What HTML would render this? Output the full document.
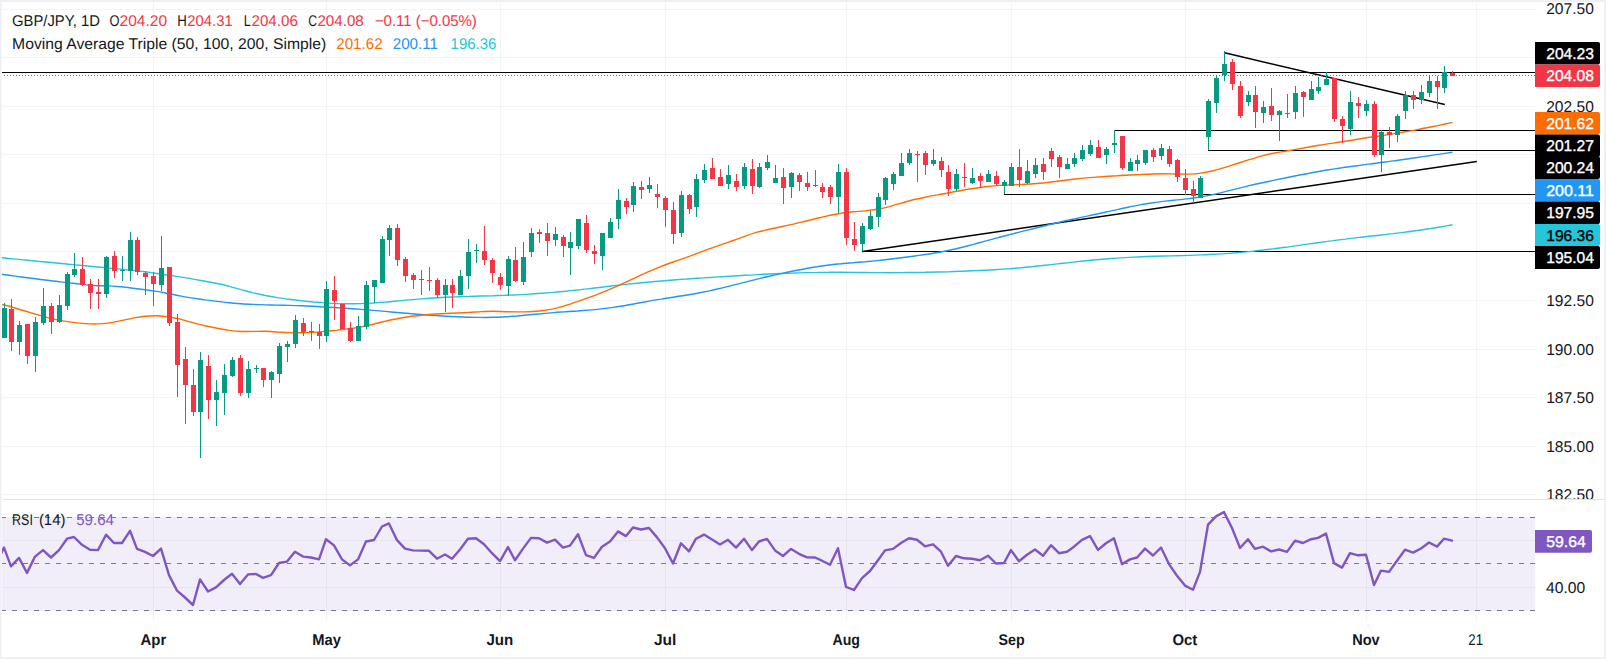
<!DOCTYPE html>
<html lang="en"><head><meta charset="utf-8"><title>GBP/JPY 1D chart</title>
<style>html,body{margin:0;padding:0;background:#fff;overflow:hidden}svg{display:block}</style>
</head><body>
<svg width="1606" height="659" viewBox="0 0 1606 659" font-family='"Liberation Sans", Arial, sans-serif' text-rendering="geometricPrecision">
<rect width="1606" height="659" fill="#fff"/>
<g shape-rendering="crispEdges" fill="#f3f4f5">
<rect x="153" y="2" width="1" height="619"/>
<rect x="326" y="2" width="1" height="619"/>
<rect x="500" y="2" width="1" height="619"/>
<rect x="665" y="2" width="1" height="619"/>
<rect x="846" y="2" width="1" height="619"/>
<rect x="1011" y="2" width="1" height="619"/>
<rect x="1185" y="2" width="1" height="619"/>
<rect x="1366" y="2" width="1" height="619"/>
<rect x="1476" y="2" width="1" height="619"/>
<rect x="2" y="9" width="1533" height="1"/>
<rect x="2" y="57" width="1533" height="1"/>
<rect x="2" y="106" width="1533" height="1"/>
<rect x="2" y="154" width="1533" height="1"/>
<rect x="2" y="203" width="1533" height="1"/>
<rect x="2" y="251" width="1533" height="1"/>
<rect x="2" y="300" width="1533" height="1"/>
<rect x="2" y="349" width="1533" height="1"/>
<rect x="2" y="397" width="1533" height="1"/>
<rect x="2" y="446" width="1533" height="1"/>
<rect x="2" y="494" width="1533" height="1"/>
<rect x="2" y="540" width="1533" height="1"/>
<rect x="2" y="587" width="1533" height="1"/>
</g>
<rect x="2" y="517" width="1533" height="94" fill="#7e57c2" fill-opacity="0.1"/>
<g stroke="#787b86" stroke-width="1" stroke-dasharray="5 6" fill="none" shape-rendering="crispEdges">
<path d="M1 517.5H1535"/>
<path d="M1 563.5H1535"/>
<path d="M1 610.5H1535"/>
</g>
<g stroke="#000" stroke-width="1" fill="none">
<g shape-rendering="crispEdges">
<path d="M0 72.5H1535"/>
<path d="M1114 130.5H1535"/>
<path d="M1208 150.5H1535"/>
<path d="M1004 194.5H1535"/>
<path d="M862 251.5H1535"/>
</g>
<path d="M862.3 251.4L1476.8 161.6" stroke-width="1.5"/>
<path d="M1224.5 52.8L1444.8 104.4" stroke-width="1.5"/>
</g>
<path d="M1.2 257.8C3.2 258.0 9.2 258.6 13.2 258.9C17.2 259.3 21.2 259.7 25.2 260.0C29.2 260.4 33.2 260.8 37.2 261.2C41.2 261.5 45.2 261.9 49.2 262.3C53.2 262.7 57.2 263.1 61.2 263.5C65.2 263.9 69.2 264.3 73.2 264.6C77.2 265.0 81.2 265.4 85.2 265.8C89.2 266.2 93.2 266.6 97.2 267.0C101.2 267.4 105.2 267.7 109.2 268.1C113.2 268.4 117.2 268.8 121.2 269.1C125.2 269.5 129.2 269.9 133.2 270.4C137.2 270.8 141.2 271.3 145.2 271.8C149.2 272.4 153.2 272.9 157.2 273.5C161.2 274.0 165.2 274.6 169.2 275.2C173.2 275.8 177.2 276.5 181.2 277.1C185.2 277.7 189.2 278.4 193.2 279.1C197.2 279.8 201.2 280.5 205.2 281.2C209.2 281.9 213.2 282.7 217.2 283.5C221.2 284.4 225.2 285.3 229.2 286.3C233.2 287.4 237.2 288.5 241.2 289.6C245.2 290.7 249.2 291.9 253.2 292.9C257.2 293.8 261.2 294.7 265.2 295.5C269.2 296.2 273.2 296.9 277.2 297.6C281.2 298.2 285.2 298.8 289.2 299.3C293.2 299.8 297.2 300.3 301.2 300.8C305.2 301.2 309.2 301.6 313.2 302.0C317.2 302.3 321.2 302.7 325.2 302.9C329.2 303.2 333.2 303.4 337.2 303.6C341.2 303.7 345.2 303.8 349.2 303.8C353.2 303.8 357.2 303.7 361.2 303.6C365.2 303.4 369.2 303.2 373.2 303.0C377.2 302.7 381.2 302.4 385.2 302.1C389.2 301.8 393.2 301.4 397.2 301.0C401.2 300.7 405.2 300.3 409.2 299.9C413.2 299.6 417.2 299.2 421.2 298.9C425.2 298.6 429.2 298.3 433.2 298.0C437.2 297.7 441.2 297.5 445.2 297.3C449.2 297.1 453.2 296.9 457.2 296.8C461.2 296.6 465.2 296.5 469.2 296.4C473.2 296.2 477.2 296.1 481.2 296.0C485.2 295.9 489.2 295.8 493.2 295.7C497.2 295.5 501.2 295.4 505.2 295.3C509.2 295.1 513.2 294.9 517.2 294.8C521.2 294.6 525.2 294.4 529.2 294.1C533.2 293.9 537.2 293.6 541.2 293.3C545.2 293.0 549.2 292.7 553.2 292.4C557.2 292.0 561.2 291.6 565.2 291.3C569.2 290.9 573.2 290.4 577.2 290.0C581.2 289.6 585.2 289.1 589.2 288.6C593.2 288.2 597.2 287.7 601.2 287.2C605.2 286.8 609.2 286.3 613.2 285.8C617.2 285.3 621.2 284.9 625.2 284.4C629.2 284.0 633.2 283.6 637.2 283.2C641.2 282.8 645.2 282.4 649.2 282.0C653.2 281.7 657.2 281.3 661.2 281.0C665.2 280.7 669.2 280.3 673.2 280.0C677.2 279.7 681.2 279.4 685.2 279.1C689.2 278.9 693.2 278.6 697.2 278.3C701.2 278.0 705.2 277.8 709.2 277.5C713.2 277.2 717.2 277.0 721.2 276.7C725.2 276.5 729.2 276.2 733.2 276.0C737.2 275.7 741.2 275.5 745.2 275.3C749.2 275.1 753.2 274.9 757.2 274.6C761.2 274.4 765.2 274.2 769.2 274.0C773.2 273.8 777.2 273.7 781.2 273.5C785.2 273.3 789.2 273.1 793.2 273.0C797.2 272.8 801.2 272.7 805.2 272.6C809.2 272.5 813.2 272.4 817.2 272.4C821.2 272.3 825.2 272.3 829.2 272.3C833.2 272.2 837.2 272.3 841.2 272.3C845.2 272.3 849.2 272.3 853.2 272.4C857.2 272.4 861.2 272.5 865.2 272.5C869.2 272.6 873.2 272.6 877.2 272.6C881.2 272.7 885.2 272.7 889.2 272.7C893.2 272.7 897.2 272.7 901.2 272.6C905.2 272.6 909.2 272.5 913.2 272.5C917.2 272.4 921.2 272.3 925.2 272.3C929.2 272.2 933.2 272.1 937.2 272.0C941.2 271.9 945.2 271.8 949.2 271.7C953.2 271.5 957.2 271.4 961.2 271.3C965.2 271.1 969.2 271.0 973.2 270.8C977.2 270.6 981.2 270.4 985.2 270.2C989.2 270.0 993.2 269.8 997.2 269.5C1001.2 269.2 1005.2 269.0 1009.2 268.7C1013.2 268.3 1017.2 268.0 1021.2 267.7C1025.2 267.3 1029.2 266.9 1033.2 266.5C1037.2 266.1 1041.2 265.7 1045.2 265.3C1049.2 264.8 1053.2 264.4 1057.2 263.9C1061.2 263.5 1065.2 263.0 1069.2 262.6C1073.2 262.1 1077.2 261.7 1081.2 261.2C1085.2 260.8 1089.2 260.4 1093.2 260.0C1097.2 259.7 1101.2 259.3 1105.2 259.0C1109.2 258.7 1113.2 258.4 1117.2 258.1C1121.2 257.8 1125.2 257.6 1129.2 257.4C1133.2 257.2 1137.2 257.0 1141.2 256.8C1145.2 256.6 1149.2 256.5 1153.2 256.3C1157.2 256.2 1161.2 256.1 1165.2 256.0C1169.2 255.9 1173.2 255.8 1177.2 255.7C1181.2 255.6 1185.2 255.5 1189.2 255.4C1193.2 255.2 1197.2 255.1 1201.2 254.9C1205.2 254.7 1209.2 254.6 1213.2 254.3C1217.2 254.1 1221.2 253.9 1225.2 253.6C1229.2 253.3 1233.2 253.0 1237.2 252.7C1241.2 252.3 1245.2 252.0 1249.2 251.6C1253.2 251.2 1257.2 250.8 1261.2 250.3C1265.2 249.9 1269.2 249.4 1273.2 248.9C1277.2 248.4 1281.2 247.9 1285.2 247.3C1289.2 246.8 1293.2 246.2 1297.2 245.6C1301.2 245.1 1305.2 244.5 1309.2 243.9C1313.2 243.3 1317.2 242.7 1321.2 242.2C1325.2 241.6 1329.2 241.1 1333.2 240.6C1337.2 240.0 1341.2 239.5 1345.2 239.1C1349.2 238.6 1353.2 238.1 1357.2 237.6C1361.2 237.2 1365.2 236.7 1369.2 236.3C1373.2 235.8 1377.2 235.4 1381.2 235.0C1385.2 234.5 1389.2 234.0 1393.2 233.6C1397.2 233.1 1401.2 232.6 1405.2 232.1C1409.2 231.6 1413.2 231.1 1417.2 230.5C1421.2 230.0 1425.2 229.4 1429.2 228.7C1433.2 228.1 1437.4 227.5 1441.2 226.8C1445.1 226.1 1450.6 225.1 1452.5 224.8" fill="none" stroke="#26c6da" stroke-width="1.4" stroke-linejoin="round"/>
<path d="M1.2 274.3C3.2 274.5 9.2 275.4 13.2 275.9C17.2 276.5 21.2 277.0 25.2 277.5C29.2 278.0 33.2 278.5 37.2 279.0C41.2 279.6 45.2 280.0 49.2 280.5C53.2 281.0 57.2 281.5 61.2 281.9C65.2 282.4 69.2 282.9 73.2 283.3C77.2 283.7 81.2 284.2 85.2 284.6C89.2 285.0 93.2 285.5 97.2 285.7C101.2 285.9 105.2 285.7 109.2 285.9C113.2 286.1 117.2 286.5 121.2 286.8C125.2 287.2 129.2 287.7 133.2 288.2C137.2 288.6 141.2 289.1 145.2 289.7C149.2 290.2 153.2 290.8 157.2 291.4C161.2 292.1 165.2 293.0 169.2 293.7C173.2 294.5 177.2 295.4 181.2 296.1C185.2 296.8 189.2 297.5 193.2 298.1C197.2 298.7 201.2 299.3 205.2 299.9C209.2 300.4 213.2 300.9 217.2 301.4C221.2 301.9 225.2 302.3 229.2 302.7C233.2 303.1 237.2 303.4 241.2 303.7C245.2 304.0 249.2 304.2 253.2 304.4C257.2 304.6 261.2 304.7 265.2 304.9C269.2 305.0 273.2 305.0 277.2 305.1C281.2 305.2 285.2 305.3 289.2 305.4C293.2 305.5 297.2 305.6 301.2 305.8C305.2 306.0 309.2 306.1 313.2 306.3C317.2 306.5 321.2 306.7 325.2 307.0C329.2 307.2 333.2 307.4 337.2 307.7C341.2 308.0 345.2 308.2 349.2 308.5C353.2 308.8 357.2 309.1 361.2 309.4C365.2 309.7 369.2 310.1 373.2 310.4C377.2 310.7 381.2 311.1 385.2 311.4C389.2 311.8 393.2 312.1 397.2 312.5C401.2 312.8 405.2 313.2 409.2 313.5C413.2 313.9 417.2 314.2 421.2 314.5C425.2 314.8 429.2 315.1 433.2 315.4C437.2 315.7 441.2 315.9 445.2 316.2C449.2 316.4 453.2 316.6 457.2 316.8C461.2 317.0 465.2 317.1 469.2 317.2C473.2 317.3 477.2 317.4 481.2 317.4C485.2 317.5 489.2 317.4 493.2 317.3C497.2 317.2 501.2 317.1 505.2 316.8C509.2 316.6 513.2 316.3 517.2 316.0C521.2 315.6 525.2 315.2 529.2 314.8C533.2 314.5 537.2 314.0 541.2 313.7C545.2 313.3 549.2 312.9 553.2 312.6C557.2 312.3 561.2 312.0 565.2 311.8C569.2 311.5 573.2 311.2 577.2 311.0C581.2 310.7 585.2 310.4 589.2 310.1C593.2 309.8 597.2 309.4 601.2 308.9C605.2 308.5 609.2 308.0 613.2 307.4C617.2 306.8 621.2 306.2 625.2 305.5C629.2 304.8 633.2 304.1 637.2 303.3C641.2 302.6 645.2 301.8 649.2 301.1C653.2 300.4 657.2 299.7 661.2 299.1C665.2 298.4 669.2 297.8 673.2 297.2C677.2 296.6 681.2 296.0 685.2 295.3C689.2 294.7 693.2 294.0 697.2 293.3C701.2 292.5 705.2 291.7 709.2 290.9C713.2 290.0 717.2 289.0 721.2 288.1C725.2 287.1 729.2 286.1 733.2 285.1C737.2 284.1 741.2 283.1 745.2 282.1C749.2 281.1 753.2 280.1 757.2 279.1C761.2 278.1 765.2 277.2 769.2 276.3C773.2 275.3 777.2 274.4 781.2 273.6C785.2 272.7 789.2 271.9 793.2 271.0C797.2 270.2 801.2 269.4 805.2 268.7C809.2 268.0 813.2 267.3 817.2 266.7C821.2 266.0 825.2 265.5 829.2 265.0C833.2 264.5 837.2 264.1 841.2 263.8C845.2 263.4 849.2 263.1 853.2 262.8C857.2 262.4 861.2 262.1 865.2 261.8C869.2 261.4 873.2 261.0 877.2 260.6C881.2 260.2 885.2 259.7 889.2 259.3C893.2 258.8 897.2 258.3 901.2 257.8C905.2 257.3 909.2 256.7 913.2 256.2C917.2 255.6 921.2 255.1 925.2 254.5C929.2 253.9 933.2 253.2 937.2 252.5C941.2 251.8 945.2 251.1 949.2 250.2C953.2 249.4 957.2 248.5 961.2 247.5C965.2 246.5 969.2 245.4 973.2 244.4C977.2 243.3 981.2 242.2 985.2 241.1C989.2 240.0 993.2 238.9 997.2 237.8C1001.2 236.7 1005.2 235.7 1009.2 234.7C1013.2 233.6 1017.2 232.6 1021.2 231.6C1025.2 230.6 1029.2 229.7 1033.2 228.7C1037.2 227.7 1041.2 226.7 1045.2 225.7C1049.2 224.7 1053.2 223.7 1057.2 222.8C1061.2 221.8 1065.2 220.9 1069.2 220.0C1073.2 219.1 1077.2 218.3 1081.2 217.4C1085.2 216.5 1089.2 215.7 1093.2 214.8C1097.2 213.9 1101.2 213.1 1105.2 212.2C1109.2 211.3 1113.2 210.4 1117.2 209.6C1121.2 208.7 1125.2 207.8 1129.2 207.0C1133.2 206.2 1137.2 205.3 1141.2 204.6C1145.2 203.9 1149.2 203.2 1153.2 202.7C1157.2 202.1 1161.2 201.6 1165.2 201.1C1169.2 200.7 1173.2 200.3 1177.2 199.9C1181.2 199.5 1185.2 199.1 1189.2 198.6C1193.2 198.1 1197.2 197.5 1201.2 196.8C1205.2 196.2 1209.2 195.3 1213.2 194.5C1217.2 193.6 1221.2 192.6 1225.2 191.6C1229.2 190.6 1233.2 189.6 1237.2 188.6C1241.2 187.6 1245.2 186.6 1249.2 185.6C1253.2 184.7 1257.2 183.8 1261.2 183.0C1265.2 182.1 1269.2 181.3 1273.2 180.4C1277.2 179.6 1281.2 178.8 1285.2 178.0C1289.2 177.1 1293.2 176.3 1297.2 175.5C1301.2 174.7 1305.2 173.9 1309.2 173.2C1313.2 172.4 1317.2 171.7 1321.2 171.0C1325.2 170.4 1329.2 169.7 1333.2 169.1C1337.2 168.5 1341.2 167.9 1345.2 167.3C1349.2 166.8 1353.2 166.2 1357.2 165.7C1361.2 165.2 1365.2 164.6 1369.2 164.1C1373.2 163.6 1377.2 163.1 1381.2 162.5C1385.2 162.0 1389.2 161.5 1393.2 160.9C1397.2 160.4 1401.2 159.8 1405.2 159.2C1409.2 158.7 1413.2 158.1 1417.2 157.5C1421.2 156.9 1425.2 156.3 1429.2 155.7C1433.2 155.1 1437.4 154.5 1441.2 153.9C1445.1 153.3 1450.6 152.5 1452.4 152.2" fill="none" stroke="#2196f3" stroke-width="1.4" stroke-linejoin="round"/>
<path d="M1.2 304.1C3.2 304.7 9.2 306.3 13.2 307.5C17.2 308.6 21.2 309.8 25.2 311.0C29.2 312.2 33.2 313.5 37.2 314.7C41.2 315.9 45.2 317.1 49.2 318.1C53.2 319.1 57.2 319.9 61.2 320.6C65.2 321.3 69.2 321.9 73.2 322.4C77.2 322.9 81.2 323.4 85.2 323.6C89.2 323.9 93.2 324.0 97.2 323.9C101.2 323.8 105.2 323.5 109.2 322.9C113.2 322.4 117.2 321.4 121.2 320.6C125.2 319.8 129.2 318.9 133.2 318.1C137.2 317.4 141.2 316.6 145.2 316.2C149.2 315.8 153.2 315.7 157.2 315.8C161.2 316.0 165.2 316.4 169.2 317.0C173.2 317.6 177.2 318.5 181.2 319.4C185.2 320.4 189.2 321.8 193.2 322.8C197.2 323.9 201.2 324.8 205.2 325.7C209.2 326.6 213.2 327.4 217.2 328.2C221.2 329.0 225.2 329.8 229.2 330.4C233.2 330.9 237.2 331.3 241.2 331.5C245.2 331.6 249.2 331.4 253.2 331.4C257.2 331.4 261.2 331.2 265.2 331.3C269.2 331.4 273.2 331.7 277.2 332.0C281.2 332.2 285.2 332.5 289.2 332.6C293.2 332.7 297.2 332.8 301.2 332.8C305.2 332.8 309.2 332.6 313.2 332.4C317.2 332.2 321.2 331.7 325.2 331.3C329.2 331.0 333.2 330.5 337.2 330.1C341.2 329.6 345.2 329.3 349.2 328.8C353.2 328.3 357.2 327.7 361.2 326.9C365.2 326.2 369.2 325.2 373.2 324.3C377.2 323.3 381.2 322.2 385.2 321.3C389.2 320.3 393.2 319.4 397.2 318.7C401.2 317.9 405.2 317.3 409.2 316.7C413.2 316.1 417.2 315.7 421.2 315.3C425.2 314.8 429.2 314.5 433.2 314.2C437.2 313.9 441.2 313.7 445.2 313.5C449.2 313.3 453.2 313.2 457.2 313.0C461.2 312.8 465.2 312.6 469.2 312.4C473.2 312.2 477.2 311.8 481.2 311.6C485.2 311.5 489.2 311.3 493.2 311.3C497.2 311.3 501.2 311.6 505.2 311.7C509.2 311.8 513.2 311.9 517.2 311.9C521.2 311.9 525.2 311.9 529.2 311.7C533.2 311.5 537.2 311.3 541.2 310.8C545.2 310.3 549.2 309.7 553.2 308.9C557.2 308.0 561.2 306.9 565.2 305.7C569.2 304.5 573.2 303.1 577.2 301.7C581.2 300.3 585.2 298.9 589.2 297.4C593.2 296.0 597.2 294.4 601.2 292.8C605.2 291.2 609.2 289.5 613.2 287.8C617.2 286.0 621.2 284.3 625.2 282.4C629.2 280.6 633.2 278.7 637.2 276.9C641.2 275.0 645.2 273.1 649.2 271.3C653.2 269.6 657.2 267.9 661.2 266.3C665.2 264.8 669.2 263.4 673.2 262.0C677.2 260.6 681.2 259.3 685.2 257.9C689.2 256.4 693.2 254.9 697.2 253.4C701.2 251.9 705.2 250.3 709.2 248.8C713.2 247.4 717.2 246.0 721.2 244.6C725.2 243.2 729.2 241.9 733.2 240.5C737.2 239.1 741.2 237.5 745.2 236.1C749.2 234.7 753.2 233.4 757.2 232.2C761.2 231.1 765.2 230.2 769.2 229.2C773.2 228.3 777.2 227.6 781.2 226.7C785.2 225.8 789.2 225.0 793.2 224.1C797.2 223.1 801.2 222.2 805.2 221.2C809.2 220.3 813.2 219.3 817.2 218.3C821.2 217.4 825.2 216.4 829.2 215.5C833.2 214.7 837.2 213.9 841.2 213.2C845.2 212.6 849.2 212.2 853.2 211.8C857.2 211.4 861.2 211.3 865.2 210.9C869.2 210.5 873.2 210.0 877.2 209.3C881.2 208.6 885.2 207.6 889.2 206.6C893.2 205.5 897.2 204.2 901.2 203.1C905.2 202.0 909.2 200.8 913.2 199.8C917.2 198.8 921.2 198.0 925.2 197.2C929.2 196.3 933.2 195.6 937.2 194.9C941.2 194.1 945.2 193.4 949.2 192.7C953.2 191.9 957.2 191.2 961.2 190.5C965.2 189.8 969.2 189.1 973.2 188.5C977.2 187.9 981.2 187.3 985.2 186.8C989.2 186.3 993.2 185.9 997.2 185.6C1001.2 185.3 1005.2 185.1 1009.2 184.9C1013.2 184.7 1017.2 184.6 1021.2 184.4C1025.2 184.2 1029.2 184.0 1033.2 183.7C1037.2 183.4 1041.2 183.1 1045.2 182.7C1049.2 182.2 1053.2 181.7 1057.2 181.2C1061.2 180.7 1065.2 180.2 1069.2 179.7C1073.2 179.3 1077.2 178.8 1081.2 178.4C1085.2 178.0 1089.2 177.7 1093.2 177.4C1097.2 177.1 1101.2 176.8 1105.2 176.5C1109.2 176.2 1113.2 175.9 1117.2 175.7C1121.2 175.4 1125.2 175.2 1129.2 175.0C1133.2 174.8 1137.2 174.6 1141.2 174.5C1145.2 174.3 1149.2 174.1 1153.2 174.0C1157.2 173.9 1161.2 173.8 1165.2 173.8C1169.2 173.8 1173.2 174.0 1177.2 174.0C1181.2 174.1 1185.2 174.3 1189.2 174.1C1193.2 174.0 1197.2 173.7 1201.2 173.1C1205.2 172.5 1209.2 171.6 1213.2 170.7C1217.2 169.7 1221.2 168.5 1225.2 167.3C1229.2 166.1 1233.2 164.7 1237.2 163.5C1241.2 162.2 1245.2 160.9 1249.2 159.6C1253.2 158.4 1257.2 157.2 1261.2 156.1C1265.2 155.1 1269.2 154.1 1273.2 153.3C1277.2 152.4 1281.2 151.9 1285.2 151.2C1289.2 150.5 1293.2 149.8 1297.2 149.1C1301.2 148.4 1305.2 147.7 1309.2 147.0C1313.2 146.3 1317.2 145.6 1321.2 145.0C1325.2 144.3 1329.2 143.7 1333.2 143.1C1337.2 142.5 1341.2 141.9 1345.2 141.2C1349.2 140.6 1353.2 139.9 1357.2 139.2C1361.2 138.6 1365.2 137.9 1369.2 137.3C1373.2 136.7 1377.2 136.2 1381.2 135.7C1385.2 135.1 1389.2 134.6 1393.2 133.9C1397.2 133.3 1401.2 132.5 1405.2 131.8C1409.2 131.1 1413.2 130.4 1417.2 129.6C1421.2 128.9 1425.2 128.1 1429.2 127.3C1433.2 126.5 1437.4 125.7 1441.2 124.9C1445.1 124.0 1450.6 122.8 1452.4 122.3" fill="none" stroke="#ff6d00" stroke-width="1.4" stroke-linejoin="round"/>
<g shape-rendering="crispEdges">
<rect x="4" y="303" width="1" height="35" fill="#089981"/>
<rect x="2" y="308" width="5" height="30" fill="#089981"/>
<rect x="11" y="299" width="1" height="52" fill="#f23645"/>
<rect x="9" y="309" width="5" height="33" fill="#f23645"/>
<rect x="19" y="321" width="1" height="34" fill="#089981"/>
<rect x="17" y="325" width="5" height="17" fill="#089981"/>
<rect x="27" y="324" width="1" height="40" fill="#f23645"/>
<rect x="25" y="324" width="5" height="32" fill="#f23645"/>
<rect x="35" y="317" width="1" height="55" fill="#089981"/>
<rect x="33" y="322" width="5" height="34" fill="#089981"/>
<rect x="43" y="288" width="1" height="37" fill="#089981"/>
<rect x="41" y="306" width="5" height="17" fill="#089981"/>
<rect x="51" y="303" width="1" height="31" fill="#f23645"/>
<rect x="49" y="306" width="5" height="16" fill="#f23645"/>
<rect x="59" y="295" width="1" height="28" fill="#089981"/>
<rect x="57" y="305" width="5" height="17" fill="#089981"/>
<rect x="67" y="272" width="1" height="38" fill="#089981"/>
<rect x="65" y="274" width="5" height="32" fill="#089981"/>
<rect x="74" y="253" width="1" height="24" fill="#089981"/>
<rect x="72" y="269" width="5" height="6" fill="#089981"/>
<rect x="82" y="257" width="1" height="29" fill="#f23645"/>
<rect x="80" y="269" width="5" height="16" fill="#f23645"/>
<rect x="90" y="279" width="1" height="30" fill="#f23645"/>
<rect x="88" y="284" width="5" height="9" fill="#f23645"/>
<rect x="98" y="279" width="1" height="30" fill="#f23645"/>
<rect x="96" y="292" width="5" height="2" fill="#f23645"/>
<rect x="106" y="256" width="1" height="42" fill="#089981"/>
<rect x="104" y="257" width="5" height="37" fill="#089981"/>
<rect x="114" y="251" width="1" height="27" fill="#f23645"/>
<rect x="112" y="256" width="5" height="15" fill="#f23645"/>
<rect x="122" y="256" width="1" height="25" fill="#089981"/>
<rect x="120" y="270" width="5" height="1" fill="#089981"/>
<rect x="130" y="232" width="1" height="49" fill="#089981"/>
<rect x="128" y="240" width="5" height="31" fill="#089981"/>
<rect x="137" y="237" width="1" height="38" fill="#f23645"/>
<rect x="135" y="240" width="5" height="32" fill="#f23645"/>
<rect x="145" y="271" width="1" height="24" fill="#f23645"/>
<rect x="143" y="273" width="5" height="4" fill="#f23645"/>
<rect x="153" y="272" width="1" height="34" fill="#f23645"/>
<rect x="151" y="276" width="5" height="8" fill="#f23645"/>
<rect x="161" y="236" width="1" height="55" fill="#089981"/>
<rect x="159" y="268" width="5" height="17" fill="#089981"/>
<rect x="169" y="267" width="1" height="59" fill="#f23645"/>
<rect x="167" y="267" width="5" height="56" fill="#f23645"/>
<rect x="177" y="314" width="1" height="83" fill="#f23645"/>
<rect x="175" y="322" width="5" height="43" fill="#f23645"/>
<rect x="185" y="347" width="1" height="77" fill="#f23645"/>
<rect x="183" y="359" width="5" height="26" fill="#f23645"/>
<rect x="193" y="369" width="1" height="47" fill="#f23645"/>
<rect x="191" y="385" width="5" height="27" fill="#f23645"/>
<rect x="200" y="352" width="1" height="106" fill="#089981"/>
<rect x="198" y="360" width="5" height="52" fill="#089981"/>
<rect x="208" y="355" width="1" height="64" fill="#f23645"/>
<rect x="206" y="366" width="5" height="34" fill="#f23645"/>
<rect x="216" y="380" width="1" height="46" fill="#089981"/>
<rect x="214" y="392" width="5" height="8" fill="#089981"/>
<rect x="224" y="364" width="1" height="51" fill="#089981"/>
<rect x="222" y="375" width="5" height="18" fill="#089981"/>
<rect x="232" y="357" width="1" height="20" fill="#089981"/>
<rect x="230" y="360" width="5" height="16" fill="#089981"/>
<rect x="240" y="355" width="1" height="41" fill="#f23645"/>
<rect x="238" y="358" width="5" height="35" fill="#f23645"/>
<rect x="248" y="361" width="1" height="37" fill="#089981"/>
<rect x="246" y="369" width="5" height="24" fill="#089981"/>
<rect x="256" y="365" width="1" height="8" fill="#089981"/>
<rect x="254" y="368" width="5" height="1" fill="#089981"/>
<rect x="263" y="368" width="1" height="19" fill="#f23645"/>
<rect x="261" y="368" width="5" height="12" fill="#f23645"/>
<rect x="271" y="371" width="1" height="27" fill="#089981"/>
<rect x="269" y="372" width="5" height="8" fill="#089981"/>
<rect x="279" y="343" width="1" height="40" fill="#089981"/>
<rect x="277" y="346" width="5" height="28" fill="#089981"/>
<rect x="287" y="341" width="1" height="21" fill="#089981"/>
<rect x="285" y="344" width="5" height="3" fill="#089981"/>
<rect x="295" y="315" width="1" height="33" fill="#089981"/>
<rect x="293" y="320" width="5" height="24" fill="#089981"/>
<rect x="303" y="318" width="1" height="18" fill="#f23645"/>
<rect x="301" y="323" width="5" height="9" fill="#f23645"/>
<rect x="311" y="322" width="1" height="19" fill="#f23645"/>
<rect x="309" y="331" width="5" height="1" fill="#f23645"/>
<rect x="319" y="324" width="1" height="25" fill="#f23645"/>
<rect x="317" y="332" width="5" height="4" fill="#f23645"/>
<rect x="326" y="281" width="1" height="61" fill="#089981"/>
<rect x="324" y="289" width="5" height="47" fill="#089981"/>
<rect x="334" y="276" width="1" height="44" fill="#f23645"/>
<rect x="332" y="290" width="5" height="11" fill="#f23645"/>
<rect x="342" y="304" width="1" height="25" fill="#f23645"/>
<rect x="340" y="304" width="5" height="25" fill="#f23645"/>
<rect x="350" y="322" width="1" height="20" fill="#f23645"/>
<rect x="348" y="328" width="5" height="13" fill="#f23645"/>
<rect x="358" y="316" width="1" height="25" fill="#089981"/>
<rect x="356" y="326" width="5" height="15" fill="#089981"/>
<rect x="366" y="281" width="1" height="48" fill="#089981"/>
<rect x="364" y="285" width="5" height="42" fill="#089981"/>
<rect x="374" y="280" width="1" height="23" fill="#089981"/>
<rect x="372" y="280" width="5" height="7" fill="#089981"/>
<rect x="382" y="236" width="1" height="47" fill="#089981"/>
<rect x="380" y="239" width="5" height="44" fill="#089981"/>
<rect x="389" y="225" width="1" height="31" fill="#089981"/>
<rect x="387" y="228" width="5" height="12" fill="#089981"/>
<rect x="397" y="224" width="1" height="42" fill="#f23645"/>
<rect x="395" y="228" width="5" height="32" fill="#f23645"/>
<rect x="405" y="257" width="1" height="25" fill="#f23645"/>
<rect x="403" y="259" width="5" height="17" fill="#f23645"/>
<rect x="413" y="273" width="1" height="16" fill="#f23645"/>
<rect x="411" y="275" width="5" height="5" fill="#f23645"/>
<rect x="421" y="270" width="1" height="25" fill="#f23645"/>
<rect x="419" y="279" width="5" height="1" fill="#f23645"/>
<rect x="429" y="267" width="1" height="24" fill="#f23645"/>
<rect x="427" y="280" width="5" height="1" fill="#f23645"/>
<rect x="437" y="278" width="1" height="20" fill="#f23645"/>
<rect x="435" y="280" width="5" height="15" fill="#f23645"/>
<rect x="445" y="279" width="1" height="33" fill="#089981"/>
<rect x="443" y="285" width="5" height="10" fill="#089981"/>
<rect x="452" y="279" width="1" height="29" fill="#f23645"/>
<rect x="450" y="285" width="5" height="8" fill="#f23645"/>
<rect x="460" y="270" width="1" height="25" fill="#089981"/>
<rect x="458" y="276" width="5" height="19" fill="#089981"/>
<rect x="468" y="239" width="1" height="50" fill="#089981"/>
<rect x="466" y="252" width="5" height="24" fill="#089981"/>
<rect x="476" y="244" width="1" height="19" fill="#089981"/>
<rect x="474" y="250" width="5" height="1" fill="#089981"/>
<rect x="484" y="226" width="1" height="39" fill="#f23645"/>
<rect x="482" y="251" width="5" height="9" fill="#f23645"/>
<rect x="492" y="258" width="1" height="25" fill="#f23645"/>
<rect x="490" y="260" width="5" height="13" fill="#f23645"/>
<rect x="500" y="273" width="1" height="17" fill="#f23645"/>
<rect x="498" y="277" width="5" height="8" fill="#f23645"/>
<rect x="508" y="256" width="1" height="40" fill="#089981"/>
<rect x="506" y="259" width="5" height="27" fill="#089981"/>
<rect x="515" y="247" width="1" height="35" fill="#f23645"/>
<rect x="513" y="260" width="5" height="21" fill="#f23645"/>
<rect x="523" y="242" width="1" height="43" fill="#089981"/>
<rect x="521" y="257" width="5" height="25" fill="#089981"/>
<rect x="531" y="228" width="1" height="29" fill="#089981"/>
<rect x="529" y="233" width="5" height="19" fill="#089981"/>
<rect x="539" y="229" width="1" height="14" fill="#f23645"/>
<rect x="537" y="232" width="5" height="2" fill="#f23645"/>
<rect x="547" y="223" width="1" height="33" fill="#f23645"/>
<rect x="545" y="233" width="5" height="8" fill="#f23645"/>
<rect x="555" y="227" width="1" height="19" fill="#089981"/>
<rect x="553" y="234" width="5" height="6" fill="#089981"/>
<rect x="563" y="235" width="1" height="22" fill="#f23645"/>
<rect x="561" y="237" width="5" height="9" fill="#f23645"/>
<rect x="570" y="232" width="1" height="43" fill="#089981"/>
<rect x="568" y="242" width="5" height="6" fill="#089981"/>
<rect x="578" y="219" width="1" height="30" fill="#089981"/>
<rect x="576" y="219" width="5" height="27" fill="#089981"/>
<rect x="586" y="215" width="1" height="38" fill="#f23645"/>
<rect x="584" y="223" width="5" height="27" fill="#f23645"/>
<rect x="594" y="245" width="1" height="19" fill="#f23645"/>
<rect x="592" y="251" width="5" height="3" fill="#f23645"/>
<rect x="602" y="233" width="1" height="37" fill="#089981"/>
<rect x="600" y="233" width="5" height="23" fill="#089981"/>
<rect x="610" y="218" width="1" height="20" fill="#089981"/>
<rect x="608" y="222" width="5" height="16" fill="#089981"/>
<rect x="618" y="189" width="1" height="40" fill="#089981"/>
<rect x="616" y="200" width="5" height="19" fill="#089981"/>
<rect x="626" y="198" width="1" height="16" fill="#f23645"/>
<rect x="624" y="201" width="5" height="6" fill="#f23645"/>
<rect x="633" y="182" width="1" height="30" fill="#089981"/>
<rect x="631" y="186" width="5" height="19" fill="#089981"/>
<rect x="641" y="181" width="1" height="18" fill="#f23645"/>
<rect x="639" y="187" width="5" height="3" fill="#f23645"/>
<rect x="649" y="177" width="1" height="16" fill="#089981"/>
<rect x="647" y="185" width="5" height="4" fill="#089981"/>
<rect x="657" y="184" width="1" height="24" fill="#f23645"/>
<rect x="655" y="194" width="5" height="3" fill="#f23645"/>
<rect x="665" y="196" width="1" height="31" fill="#f23645"/>
<rect x="663" y="198" width="5" height="12" fill="#f23645"/>
<rect x="673" y="202" width="1" height="42" fill="#f23645"/>
<rect x="671" y="210" width="5" height="24" fill="#f23645"/>
<rect x="681" y="191" width="1" height="46" fill="#089981"/>
<rect x="679" y="195" width="5" height="38" fill="#089981"/>
<rect x="689" y="194" width="1" height="20" fill="#f23645"/>
<rect x="687" y="195" width="5" height="14" fill="#f23645"/>
<rect x="696" y="174" width="1" height="43" fill="#089981"/>
<rect x="694" y="179" width="5" height="28" fill="#089981"/>
<rect x="704" y="164" width="1" height="19" fill="#089981"/>
<rect x="702" y="170" width="5" height="10" fill="#089981"/>
<rect x="712" y="158" width="1" height="21" fill="#f23645"/>
<rect x="710" y="168" width="5" height="11" fill="#f23645"/>
<rect x="720" y="169" width="1" height="17" fill="#f23645"/>
<rect x="718" y="177" width="5" height="9" fill="#f23645"/>
<rect x="728" y="165" width="1" height="24" fill="#089981"/>
<rect x="726" y="175" width="5" height="9" fill="#089981"/>
<rect x="736" y="174" width="1" height="17" fill="#f23645"/>
<rect x="734" y="181" width="5" height="6" fill="#f23645"/>
<rect x="744" y="163" width="1" height="26" fill="#089981"/>
<rect x="742" y="167" width="5" height="19" fill="#089981"/>
<rect x="752" y="159" width="1" height="35" fill="#f23645"/>
<rect x="750" y="169" width="5" height="17" fill="#f23645"/>
<rect x="759" y="163" width="1" height="25" fill="#089981"/>
<rect x="757" y="167" width="5" height="20" fill="#089981"/>
<rect x="767" y="155" width="1" height="15" fill="#089981"/>
<rect x="765" y="162" width="5" height="6" fill="#089981"/>
<rect x="775" y="165" width="1" height="18" fill="#089981"/>
<rect x="773" y="178" width="5" height="5" fill="#089981"/>
<rect x="783" y="168" width="1" height="36" fill="#f23645"/>
<rect x="781" y="177" width="5" height="11" fill="#f23645"/>
<rect x="791" y="172" width="1" height="26" fill="#089981"/>
<rect x="789" y="173" width="5" height="14" fill="#089981"/>
<rect x="799" y="173" width="1" height="18" fill="#f23645"/>
<rect x="797" y="175" width="5" height="7" fill="#f23645"/>
<rect x="807" y="172" width="1" height="19" fill="#f23645"/>
<rect x="805" y="183" width="5" height="4" fill="#f23645"/>
<rect x="815" y="170" width="1" height="17" fill="#f23645"/>
<rect x="813" y="185" width="5" height="1" fill="#f23645"/>
<rect x="822" y="183" width="1" height="15" fill="#f23645"/>
<rect x="820" y="187" width="5" height="5" fill="#f23645"/>
<rect x="830" y="185" width="1" height="19" fill="#f23645"/>
<rect x="828" y="187" width="5" height="10" fill="#f23645"/>
<rect x="838" y="164" width="1" height="49" fill="#089981"/>
<rect x="836" y="172" width="5" height="25" fill="#089981"/>
<rect x="846" y="168" width="1" height="77" fill="#f23645"/>
<rect x="844" y="172" width="5" height="66" fill="#f23645"/>
<rect x="854" y="222" width="1" height="29" fill="#f23645"/>
<rect x="852" y="239" width="5" height="6" fill="#f23645"/>
<rect x="862" y="223" width="1" height="28" fill="#089981"/>
<rect x="860" y="226" width="5" height="18" fill="#089981"/>
<rect x="870" y="211" width="1" height="19" fill="#089981"/>
<rect x="868" y="216" width="5" height="13" fill="#089981"/>
<rect x="878" y="193" width="1" height="34" fill="#089981"/>
<rect x="876" y="197" width="5" height="20" fill="#089981"/>
<rect x="885" y="177" width="1" height="28" fill="#089981"/>
<rect x="883" y="178" width="5" height="22" fill="#089981"/>
<rect x="893" y="172" width="1" height="18" fill="#089981"/>
<rect x="891" y="174" width="5" height="10" fill="#089981"/>
<rect x="901" y="153" width="1" height="23" fill="#089981"/>
<rect x="899" y="163" width="5" height="13" fill="#089981"/>
<rect x="909" y="149" width="1" height="16" fill="#089981"/>
<rect x="907" y="153" width="5" height="10" fill="#089981"/>
<rect x="917" y="151" width="1" height="31" fill="#f23645"/>
<rect x="915" y="154" width="5" height="1" fill="#f23645"/>
<rect x="925" y="151" width="1" height="24" fill="#f23645"/>
<rect x="923" y="153" width="5" height="12" fill="#f23645"/>
<rect x="933" y="149" width="1" height="17" fill="#089981"/>
<rect x="931" y="160" width="5" height="4" fill="#089981"/>
<rect x="941" y="157" width="1" height="20" fill="#f23645"/>
<rect x="939" y="161" width="5" height="9" fill="#f23645"/>
<rect x="948" y="165" width="1" height="31" fill="#f23645"/>
<rect x="946" y="172" width="5" height="17" fill="#f23645"/>
<rect x="956" y="169" width="1" height="22" fill="#089981"/>
<rect x="954" y="174" width="5" height="15" fill="#089981"/>
<rect x="964" y="163" width="1" height="24" fill="#f23645"/>
<rect x="962" y="177" width="5" height="1" fill="#f23645"/>
<rect x="972" y="168" width="1" height="16" fill="#089981"/>
<rect x="970" y="178" width="5" height="5" fill="#089981"/>
<rect x="980" y="173" width="1" height="15" fill="#f23645"/>
<rect x="978" y="176" width="5" height="5" fill="#f23645"/>
<rect x="988" y="170" width="1" height="12" fill="#089981"/>
<rect x="986" y="174" width="5" height="8" fill="#089981"/>
<rect x="996" y="171" width="1" height="14" fill="#f23645"/>
<rect x="994" y="176" width="5" height="8" fill="#f23645"/>
<rect x="1004" y="180" width="1" height="14" fill="#089981"/>
<rect x="1002" y="182" width="5" height="4" fill="#089981"/>
<rect x="1011" y="163" width="1" height="23" fill="#089981"/>
<rect x="1009" y="167" width="5" height="19" fill="#089981"/>
<rect x="1019" y="149" width="1" height="38" fill="#f23645"/>
<rect x="1017" y="167" width="5" height="13" fill="#f23645"/>
<rect x="1027" y="160" width="1" height="24" fill="#089981"/>
<rect x="1025" y="171" width="5" height="12" fill="#089981"/>
<rect x="1035" y="158" width="1" height="20" fill="#089981"/>
<rect x="1033" y="165" width="5" height="9" fill="#089981"/>
<rect x="1043" y="158" width="1" height="22" fill="#f23645"/>
<rect x="1041" y="164" width="5" height="8" fill="#f23645"/>
<rect x="1051" y="148" width="1" height="19" fill="#f23645"/>
<rect x="1049" y="151" width="5" height="8" fill="#f23645"/>
<rect x="1059" y="155" width="1" height="23" fill="#f23645"/>
<rect x="1057" y="157" width="5" height="10" fill="#f23645"/>
<rect x="1067" y="158" width="1" height="11" fill="#089981"/>
<rect x="1065" y="164" width="5" height="5" fill="#089981"/>
<rect x="1074" y="153" width="1" height="14" fill="#089981"/>
<rect x="1072" y="158" width="5" height="6" fill="#089981"/>
<rect x="1082" y="145" width="1" height="16" fill="#089981"/>
<rect x="1080" y="150" width="5" height="9" fill="#089981"/>
<rect x="1090" y="140" width="1" height="16" fill="#089981"/>
<rect x="1088" y="145" width="5" height="9" fill="#089981"/>
<rect x="1098" y="140" width="1" height="18" fill="#f23645"/>
<rect x="1096" y="147" width="5" height="11" fill="#f23645"/>
<rect x="1106" y="147" width="1" height="17" fill="#089981"/>
<rect x="1104" y="149" width="5" height="6" fill="#089981"/>
<rect x="1114" y="130" width="1" height="23" fill="#089981"/>
<rect x="1112" y="143" width="5" height="2" fill="#089981"/>
<rect x="1122" y="136" width="1" height="34" fill="#f23645"/>
<rect x="1120" y="136" width="5" height="32" fill="#f23645"/>
<rect x="1130" y="158" width="1" height="13" fill="#089981"/>
<rect x="1128" y="162" width="5" height="9" fill="#089981"/>
<rect x="1137" y="155" width="1" height="16" fill="#089981"/>
<rect x="1135" y="160" width="5" height="4" fill="#089981"/>
<rect x="1145" y="150" width="1" height="15" fill="#089981"/>
<rect x="1143" y="150" width="5" height="13" fill="#089981"/>
<rect x="1153" y="148" width="1" height="14" fill="#f23645"/>
<rect x="1151" y="150" width="5" height="7" fill="#f23645"/>
<rect x="1161" y="144" width="1" height="16" fill="#089981"/>
<rect x="1159" y="148" width="5" height="8" fill="#089981"/>
<rect x="1169" y="146" width="1" height="21" fill="#f23645"/>
<rect x="1167" y="149" width="5" height="15" fill="#f23645"/>
<rect x="1177" y="159" width="1" height="23" fill="#f23645"/>
<rect x="1175" y="160" width="5" height="17" fill="#f23645"/>
<rect x="1185" y="169" width="1" height="26" fill="#f23645"/>
<rect x="1183" y="178" width="5" height="12" fill="#f23645"/>
<rect x="1193" y="181" width="1" height="22" fill="#f23645"/>
<rect x="1191" y="189" width="5" height="7" fill="#f23645"/>
<rect x="1200" y="176" width="1" height="22" fill="#089981"/>
<rect x="1198" y="178" width="5" height="20" fill="#089981"/>
<rect x="1208" y="99" width="1" height="51" fill="#089981"/>
<rect x="1206" y="101" width="5" height="36" fill="#089981"/>
<rect x="1216" y="76" width="1" height="37" fill="#089981"/>
<rect x="1214" y="78" width="5" height="25" fill="#089981"/>
<rect x="1224" y="51" width="1" height="30" fill="#089981"/>
<rect x="1222" y="64" width="5" height="11" fill="#089981"/>
<rect x="1232" y="59" width="1" height="31" fill="#f23645"/>
<rect x="1230" y="62" width="5" height="22" fill="#f23645"/>
<rect x="1240" y="81" width="1" height="37" fill="#f23645"/>
<rect x="1238" y="86" width="5" height="30" fill="#f23645"/>
<rect x="1248" y="91" width="1" height="15" fill="#089981"/>
<rect x="1246" y="95" width="5" height="7" fill="#089981"/>
<rect x="1255" y="86" width="1" height="42" fill="#f23645"/>
<rect x="1253" y="95" width="5" height="17" fill="#f23645"/>
<rect x="1263" y="101" width="1" height="22" fill="#089981"/>
<rect x="1261" y="107" width="5" height="6" fill="#089981"/>
<rect x="1271" y="88" width="1" height="33" fill="#f23645"/>
<rect x="1269" y="106" width="5" height="9" fill="#f23645"/>
<rect x="1279" y="110" width="1" height="31" fill="#089981"/>
<rect x="1277" y="111" width="5" height="4" fill="#089981"/>
<rect x="1287" y="94" width="1" height="24" fill="#f23645"/>
<rect x="1285" y="113" width="5" height="1" fill="#f23645"/>
<rect x="1295" y="86" width="1" height="33" fill="#089981"/>
<rect x="1293" y="93" width="5" height="19" fill="#089981"/>
<rect x="1303" y="91" width="1" height="26" fill="#f23645"/>
<rect x="1301" y="92" width="5" height="5" fill="#f23645"/>
<rect x="1311" y="81" width="1" height="19" fill="#089981"/>
<rect x="1309" y="89" width="5" height="11" fill="#089981"/>
<rect x="1318" y="77" width="1" height="17" fill="#089981"/>
<rect x="1316" y="87" width="5" height="4" fill="#089981"/>
<rect x="1326" y="72" width="1" height="13" fill="#089981"/>
<rect x="1324" y="79" width="5" height="6" fill="#089981"/>
<rect x="1334" y="78" width="1" height="44" fill="#f23645"/>
<rect x="1332" y="78" width="5" height="41" fill="#f23645"/>
<rect x="1342" y="116" width="1" height="27" fill="#f23645"/>
<rect x="1340" y="119" width="5" height="7" fill="#f23645"/>
<rect x="1350" y="91" width="1" height="44" fill="#089981"/>
<rect x="1348" y="102" width="5" height="27" fill="#089981"/>
<rect x="1358" y="97" width="1" height="21" fill="#f23645"/>
<rect x="1356" y="103" width="5" height="3" fill="#f23645"/>
<rect x="1366" y="100" width="1" height="16" fill="#089981"/>
<rect x="1364" y="104" width="5" height="7" fill="#089981"/>
<rect x="1374" y="101" width="1" height="56" fill="#f23645"/>
<rect x="1372" y="104" width="5" height="51" fill="#f23645"/>
<rect x="1381" y="130" width="1" height="42" fill="#089981"/>
<rect x="1379" y="132" width="5" height="23" fill="#089981"/>
<rect x="1389" y="127" width="1" height="21" fill="#f23645"/>
<rect x="1387" y="132" width="5" height="3" fill="#f23645"/>
<rect x="1397" y="114" width="1" height="28" fill="#089981"/>
<rect x="1395" y="116" width="5" height="19" fill="#089981"/>
<rect x="1405" y="91" width="1" height="28" fill="#089981"/>
<rect x="1403" y="95" width="5" height="16" fill="#089981"/>
<rect x="1413" y="91" width="1" height="18" fill="#f23645"/>
<rect x="1411" y="95" width="5" height="5" fill="#f23645"/>
<rect x="1421" y="85" width="1" height="19" fill="#089981"/>
<rect x="1419" y="92" width="5" height="8" fill="#089981"/>
<rect x="1429" y="75" width="1" height="22" fill="#089981"/>
<rect x="1427" y="81" width="5" height="12" fill="#089981"/>
<rect x="1437" y="76" width="1" height="33" fill="#f23645"/>
<rect x="1435" y="81" width="5" height="6" fill="#f23645"/>
<rect x="1444" y="66" width="1" height="27" fill="#089981"/>
<rect x="1442" y="72" width="5" height="16" fill="#089981"/>
<rect x="1452" y="71" width="1" height="5" fill="#f23645"/>
<rect x="1450" y="73" width="5" height="3" fill="#f23645"/>
</g>
<path d="M1 75.5H1535" stroke="#f23645" stroke-width="1" stroke-dasharray="1 2" shape-rendering="crispEdges"/>
<path d="M-4.0 563.5L4.0 547.6L11.0 566.3L19.0 557.9L27.0 572.9L35.0 556.6L43.0 550.1L51.0 557.5L59.0 550.1L67.0 538.7L74.0 537.0L82.0 544.8L90.0 549.7L98.0 550.1L106.0 534.7L114.0 543.0L122.0 543.0L130.0 530.8L137.0 548.9L145.0 551.9L153.0 556.0L161.0 548.6L169.0 575.1L177.0 590.6L185.0 597.5L193.0 605.0L200.0 579.4L208.0 591.5L216.0 587.4L224.0 580.0L232.0 573.8L240.0 584.1L248.0 574.4L256.0 574.0L263.0 577.9L271.0 575.1L279.0 563.0L287.0 561.6L295.0 551.7L303.0 556.6L311.0 557.5L319.0 559.4L326.0 539.2L334.0 545.4L342.0 559.4L350.0 565.4L358.0 559.4L366.0 541.5L374.0 540.0L382.0 526.5L389.0 523.4L397.0 540.2L405.0 548.6L413.0 550.4L421.0 550.6L429.0 550.8L437.0 558.7L445.0 554.5L452.0 558.7L460.0 549.5L468.0 538.7L476.0 538.3L484.0 544.3L492.0 553.2L500.0 561.1L508.0 547.1L515.0 560.2L523.0 548.6L531.0 537.9L539.0 538.3L547.0 542.6L555.0 539.6L563.0 547.6L570.0 545.6L578.0 534.2L586.0 555.1L594.0 557.9L602.0 546.7L610.0 541.5L618.0 531.4L626.0 536.1L633.0 527.5L641.0 529.5L649.0 528.0L657.0 537.4L665.0 548.2L673.0 563.5L681.0 543.3L689.0 551.4L696.0 538.7L704.0 534.6L712.0 539.6L720.0 544.5L728.0 539.8L736.0 547.6L744.0 538.7L752.0 550.1L759.0 541.5L767.0 538.9L775.0 550.4L783.0 556.0L791.0 548.9L799.0 553.8L807.0 557.4L815.0 557.5L822.0 560.7L830.0 564.8L838.0 548.2L846.0 586.9L854.0 590.0L862.0 578.1L870.0 571.0L878.0 560.2L885.0 550.4L893.0 548.9L901.0 543.0L909.0 538.3L917.0 539.8L925.0 546.3L933.0 544.3L941.0 551.7L948.0 565.8L956.0 556.0L964.0 558.3L972.0 558.8L980.0 560.3L988.0 555.7L996.0 563.5L1004.0 563.0L1011.0 550.1L1019.0 561.3L1027.0 554.7L1035.0 549.5L1043.0 555.7L1051.0 545.2L1059.0 553.2L1067.0 551.7L1074.0 546.7L1082.0 539.8L1090.0 536.1L1098.0 549.9L1106.0 543.3L1114.0 538.3L1122.0 564.1L1130.0 559.4L1137.0 557.5L1145.0 548.6L1153.0 555.5L1161.0 547.6L1169.0 564.1L1177.0 575.7L1185.0 585.6L1193.0 589.7L1200.0 571.9L1208.0 524.7L1216.0 516.4L1224.0 512.1L1232.0 528.0L1240.0 548.0L1248.0 539.2L1255.0 548.9L1263.0 546.7L1271.0 551.4L1279.0 549.5L1287.0 551.9L1295.0 540.7L1303.0 543.0L1311.0 539.2L1318.0 537.9L1326.0 533.6L1334.0 563.1L1342.0 567.6L1350.0 553.2L1358.0 555.3L1366.0 554.7L1374.0 585.0L1381.0 570.6L1389.0 571.9L1397.0 560.7L1405.0 549.7L1413.0 552.6L1421.0 548.5L1429.0 542.5L1437.0 546.6L1444.0 538.7L1452.0 540.6" fill="none" stroke="#7e57c2" stroke-width="2.4" stroke-linejoin="round" stroke-linecap="round"/>
<rect x="0" y="499" width="1606" height="1" fill="#e0e3eb" shape-rendering="crispEdges"/>
<rect x="1535" y="2" width="69" height="497" fill="#fff"/>
<rect x="1535" y="500" width="69" height="120" fill="#fff"/>
<defs><clipPath id="mainclip"><rect x="0" y="0" width="1606" height="499"/></clipPath></defs>
<g clip-path="url(#mainclip)">
<text x="1546.2" y="13.9" textLength="47.6" lengthAdjust="spacingAndGlyphs" font-size="15.6" fill="#131722" >207.50</text>
<text x="1546.2" y="112.3" textLength="47.6" lengthAdjust="spacingAndGlyphs" font-size="15.6" fill="#131722" >202.50</text>
<text x="1546.2" y="306.3" textLength="47.6" lengthAdjust="spacingAndGlyphs" font-size="15.6" fill="#131722" >192.50</text>
<text x="1546.2" y="355.3" textLength="47.6" lengthAdjust="spacingAndGlyphs" font-size="15.6" fill="#131722" >190.00</text>
<text x="1546.2" y="403.3" textLength="47.6" lengthAdjust="spacingAndGlyphs" font-size="15.6" fill="#131722" >187.50</text>
<text x="1546.2" y="452.3" textLength="47.6" lengthAdjust="spacingAndGlyphs" font-size="15.6" fill="#131722" >185.00</text>
<text x="1546.2" y="500.3" textLength="47.6" lengthAdjust="spacingAndGlyphs" font-size="15.6" fill="#131722" >182.50</text>
</g>
<text x="1546.1" y="593.3" textLength="39.2" lengthAdjust="spacingAndGlyphs" font-size="15.6" fill="#131722" >40.00</text>
<path d="M1535 42H1598a2 2 0 0 1 2 2V62.5a2 2 0 0 1 -2 2H1535Z" fill="#000"/>
<text x="1546.2" y="58.9" textLength="47.8" lengthAdjust="spacingAndGlyphs" font-size="15.6" fill="#fff" stroke="#fff" stroke-width="0.35">204.23</text>
<path d="M1535 64.5H1598a2 2 0 0 1 2 2V85a2 2 0 0 1 -2 2H1535Z" fill="#f23645"/>
<text x="1546.2" y="81.4" textLength="47.8" lengthAdjust="spacingAndGlyphs" font-size="15.6" fill="#fff" stroke="#fff" stroke-width="0.35">204.08</text>
<path d="M1535 112H1598a2 2 0 0 1 2 2V132.5a2 2 0 0 1 -2 2H1535Z" fill="#ff6d00"/>
<text x="1546.2" y="128.9" textLength="47.8" lengthAdjust="spacingAndGlyphs" font-size="15.6" fill="#fff" stroke="#fff" stroke-width="0.35">201.62</text>
<path d="M1535 134.5H1598a2 2 0 0 1 2 2V155a2 2 0 0 1 -2 2H1535Z" fill="#000"/>
<text x="1546.2" y="151.4" textLength="47.8" lengthAdjust="spacingAndGlyphs" font-size="15.6" fill="#fff" stroke="#fff" stroke-width="0.35">201.27</text>
<path d="M1535 156.5H1598a2 2 0 0 1 2 2V177a2 2 0 0 1 -2 2H1535Z" fill="#000"/>
<text x="1546.2" y="173.4" textLength="47.8" lengthAdjust="spacingAndGlyphs" font-size="15.6" fill="#fff" stroke="#fff" stroke-width="0.35">200.24</text>
<path d="M1535 179H1598a2 2 0 0 1 2 2V199.5a2 2 0 0 1 -2 2H1535Z" fill="#2196f3"/>
<text x="1546.2" y="195.9" textLength="47.8" lengthAdjust="spacingAndGlyphs" font-size="15.6" fill="#fff" stroke="#fff" stroke-width="0.35">200.11</text>
<path d="M1535 201.5H1598a2 2 0 0 1 2 2V222a2 2 0 0 1 -2 2H1535Z" fill="#000"/>
<text x="1546.2" y="218.4" textLength="47.8" lengthAdjust="spacingAndGlyphs" font-size="15.6" fill="#fff" stroke="#fff" stroke-width="0.35">197.95</text>
<path d="M1535 224H1598a2 2 0 0 1 2 2V244a2 2 0 0 1 -2 2H1535Z" fill="#26c6da"/>
<text x="1546.2" y="240.7" textLength="47.8" lengthAdjust="spacingAndGlyphs" font-size="15.6" fill="#000" stroke="#000" stroke-width="0.35">196.36</text>
<path d="M1535 246H1598a2 2 0 0 1 2 2V267a2 2 0 0 1 -2 2H1535Z" fill="#000"/>
<text x="1546.2" y="263.2" textLength="47.8" lengthAdjust="spacingAndGlyphs" font-size="15.6" fill="#fff" stroke="#fff" stroke-width="0.35">195.04</text>
<path d="M1535 530H1590a2 2 0 0 1 2 2V550.8a2 2 0 0 1 -2 2H1535Z" fill="#7e57c2"/>
<text x="1546.3" y="547.1" textLength="39.5" lengthAdjust="spacingAndGlyphs" font-size="15.6" fill="#fff" stroke="#fff" stroke-width="0.35">59.64</text>
<text x="140.5" y="645" textLength="25.8" lengthAdjust="spacingAndGlyphs" font-size="15.5" font-weight="bold" fill="#131722">Apr</text>
<text x="312.3" y="645" textLength="28.7" lengthAdjust="spacingAndGlyphs" font-size="15.5" font-weight="bold" fill="#131722">May</text>
<text x="486.4" y="645" textLength="26.9" lengthAdjust="spacingAndGlyphs" font-size="15.5" font-weight="bold" fill="#131722">Jun</text>
<text x="654.0" y="645" textLength="22.4" lengthAdjust="spacingAndGlyphs" font-size="15.5" font-weight="bold" fill="#131722">Jul</text>
<text x="832.5" y="645" textLength="27.5" lengthAdjust="spacingAndGlyphs" font-size="15.5" font-weight="bold" fill="#131722">Aug</text>
<text x="998.6" y="645" textLength="26.1" lengthAdjust="spacingAndGlyphs" font-size="15.5" font-weight="bold" fill="#131722">Sep</text>
<text x="1172.4" y="645" textLength="24.9" lengthAdjust="spacingAndGlyphs" font-size="15.5" font-weight="bold" fill="#131722">Oct</text>
<text x="1352.2" y="645" textLength="27.5" lengthAdjust="spacingAndGlyphs" font-size="15.5" font-weight="bold" fill="#131722">Nov</text>
<text x="1468.3" y="645" textLength="14.8" lengthAdjust="spacingAndGlyphs" font-size="15.5" font-weight="normal" fill="#131722">21</text>
<text x="12.0" y="25.5" textLength="87.9" lengthAdjust="spacingAndGlyphs" font-size="15.5" fill="#131722">GBP/JPY, 1D</text>
<text x="109.6" y="25.5" textLength="10.0" lengthAdjust="spacingAndGlyphs" font-size="15.5" fill="#131722">O</text>
<text x="119.6" y="25.5" textLength="47.5" lengthAdjust="spacingAndGlyphs" font-size="15.5" fill="#f23645">204.20</text>
<text x="177.2" y="25.5" textLength="9.6" lengthAdjust="spacingAndGlyphs" font-size="15.5" fill="#131722">H</text>
<text x="187.3" y="25.5" textLength="45.4" lengthAdjust="spacingAndGlyphs" font-size="15.5" fill="#f23645">204.31</text>
<text x="243.8" y="25.5" textLength="7.0" lengthAdjust="spacingAndGlyphs" font-size="15.5" fill="#131722">L</text>
<text x="251.5" y="25.5" textLength="46.4" lengthAdjust="spacingAndGlyphs" font-size="15.5" fill="#f23645">204.06</text>
<text x="308.3" y="25.5" textLength="8.7" lengthAdjust="spacingAndGlyphs" font-size="15.5" fill="#131722">C</text>
<text x="317.4" y="25.5" textLength="46.4" lengthAdjust="spacingAndGlyphs" font-size="15.5" fill="#f23645">204.08</text>
<text x="374.9" y="25.5" textLength="101.9" lengthAdjust="spacingAndGlyphs" font-size="15.5" fill="#f23645">−0.11 (−0.05%)</text>
<text x="12.1" y="48.6" textLength="314.1" lengthAdjust="spacingAndGlyphs" font-size="15.5" fill="#131722">Moving Average Triple (50, 100, 200, Simple)</text>
<text x="336.2" y="48.6" textLength="46.5" lengthAdjust="spacingAndGlyphs" font-size="15.5" fill="#ff6d00">201.62</text>
<text x="392.7" y="48.6" textLength="45.4" lengthAdjust="spacingAndGlyphs" font-size="15.5" fill="#2196f3">200.11</text>
<text x="450.6" y="48.6" textLength="45.7" lengthAdjust="spacingAndGlyphs" font-size="15.5" fill="#26c6da">196.36</text>
<text x="12.1" y="524.8" textLength="20.8" lengthAdjust="spacingAndGlyphs" font-size="15.5" fill="#131722">RSI</text>
<text x="38.9" y="524.8" textLength="26.5" lengthAdjust="spacingAndGlyphs" font-size="15.5" fill="#131722">(14)</text>
<text x="76.2" y="524.8" textLength="37.8" lengthAdjust="spacingAndGlyphs" font-size="15.5" fill="#7e57c2">59.64</text>
<g fill="#eef0f6" shape-rendering="crispEdges">
<rect x="0" y="0" width="1606" height="2"/><rect x="0" y="657" width="1606" height="2"/>
<rect x="0" y="0" width="1" height="659"/><rect x="1" y="2" width="1" height="655" fill="#f5f6fa"/><rect x="1604" y="0" width="2" height="659"/>
</g>
</svg>
</body></html>
